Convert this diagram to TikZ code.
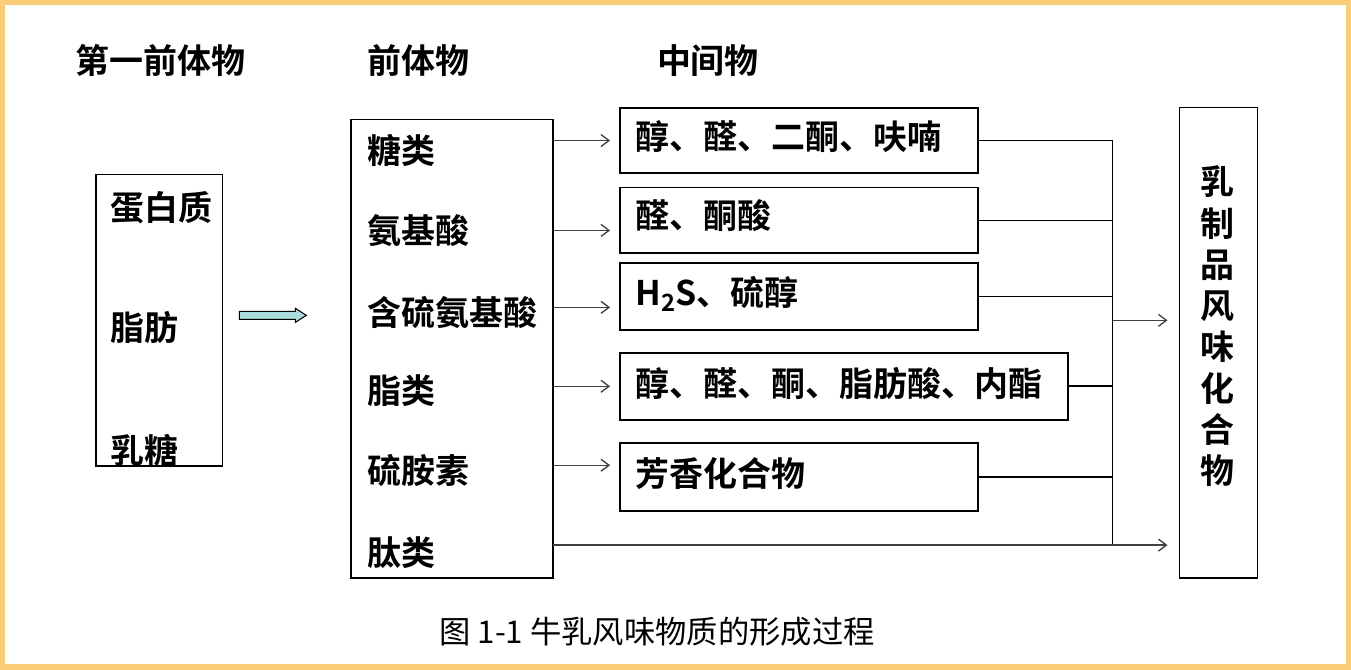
\documentclass[tikz,border=0pt]{standalone}
\usepackage{fontspec}
\setmainfont{Liberation Sans}
\newfontfamily\cjk{Noto Sans CJK SC}
\newfontfamily\cjkb{Noto Sans CJK SC Bold}
\usetikzlibrary{arrows.meta,positioning,calc}
\definecolor{frameorange}{RGB}{250,206,120}
\definecolor{arrowcyan}{RGB}{170,220,222}

\begin{document}
\begin{tikzpicture}[
    x=0.75pt, y=-0.75pt,
    box/.style={draw, line width=1.4pt, inner sep=0pt},
    txt/.style={anchor=west, font=\cjkb\fontsize{25.5}{27}\selectfont, inner sep=0pt},
    head/.style={font=\cjkb\fontsize{25.5}{27}\selectfont, inner sep=0pt},
    link/.style={line width=1.2pt},
    arrow/.style={->, line width=1pt, black!75, >={Straight Barb[length=6pt,width=9pt]}}
]
    % frame
    \draw[frameorange, line width=4pt, fill=white] (2,2) rectangle (1349,667);

    % headers
    \node[head] (h1) at (160,60) {第一前体物};
    \node[head] (h2) at (418,60) {前体物};
    \node[head] (h3) at (708,60) {中间物};

    % first precursors
    \draw[box] (95,174) rectangle (222,466);
    \node[txt] (protein) at (110,207) {蛋白质};
    \node[txt] (fat) at (110,327) {脂肪};
    \node[txt] (lactose) at (110,450) {乳糖};

    % hollow arrow
    \draw[thick, fill=arrowcyan] (239,311) -- (295,311) -- (295,308) -- (306,315)
        -- (295,322) -- (295,319) -- (239,319) -- cycle;

    % precursors
    \draw[box] (351,119) rectangle (553,578);
    \node[txt] (sugar) at (367,150) {糖类};
    \node[txt] (amino) at (367,230) {氨基酸};
    \node[txt] (samino) at (367,312) {含硫氨基酸};
    \node[txt] (lipid) at (367,390) {脂类};
    \node[txt] (thiamine) at (367,470) {硫胺素};
    \node[txt] (peptide) at (367,553) {肽类};

    % intermediates
    \node[box, minimum width=358*0.75pt, minimum height=65*0.75pt] (m1) at (799,140) {};
    \node[box, minimum width=358*0.75pt, minimum height=66*0.75pt] (m2) at (799,220) {};
    \node[box, minimum width=358*0.75pt, minimum height=67*0.75pt] (m3) at (799,296) {};
    \node[box, minimum width=448*0.75pt, minimum height=67*0.75pt] (m4) at (844,386) {};
    \node[box, minimum width=358*0.75pt, minimum height=68*0.75pt] (m5) at (799,477) {};
    \node[txt] at (635,136) {醇、醛、二酮、呋喃};
    \node[txt] at (635,215) {醛、酮酸};
    \node[txt] at (635,294) {H\textsubscript{2}S、硫醇};
    \node[txt] at (635,383) {醇、醛、酮、脂肪酸、内酯};
    \node[txt] at (635,473) {芳香化合物};

    % precursor arrows
    \draw[arrow] (553,140) -- (610,140);
    \draw[arrow] (553,230) -- (610,230);
    \draw[arrow] (553,307) -- (610,307);
    \draw[arrow] (553,386) -- (610,386);
    \draw[arrow] (553,465) -- (610,465);

    % collector
    \coordinate (bus) at (1113,0);
    \foreach \m in {m1,m2,m3,m4,m5}
        \draw[link] (\m.east) -- (\m.east -| bus);
    \draw[link] (m1.east -| bus) -- (1113,545);
    \draw[arrow] (1113,320) -- (1168,320);
    \draw[arrow] (553,545) -- (1168,545);

    % product
    \draw[box] (1180,107) rectangle (1258,578);
    \node[head, align=center, font=\cjkb\fontsize{25.5}{31}\selectfont] (milk) at (1218,326)
        {乳\\制\\品\\风\\味\\化\\合\\物};

    % caption
    \node[font=\cjk\fontsize{23.5}{25}\selectfont] (cap) at (657,632) {图 1-1 牛乳风味物质的形成过程};
\end{tikzpicture}
\end{document}
